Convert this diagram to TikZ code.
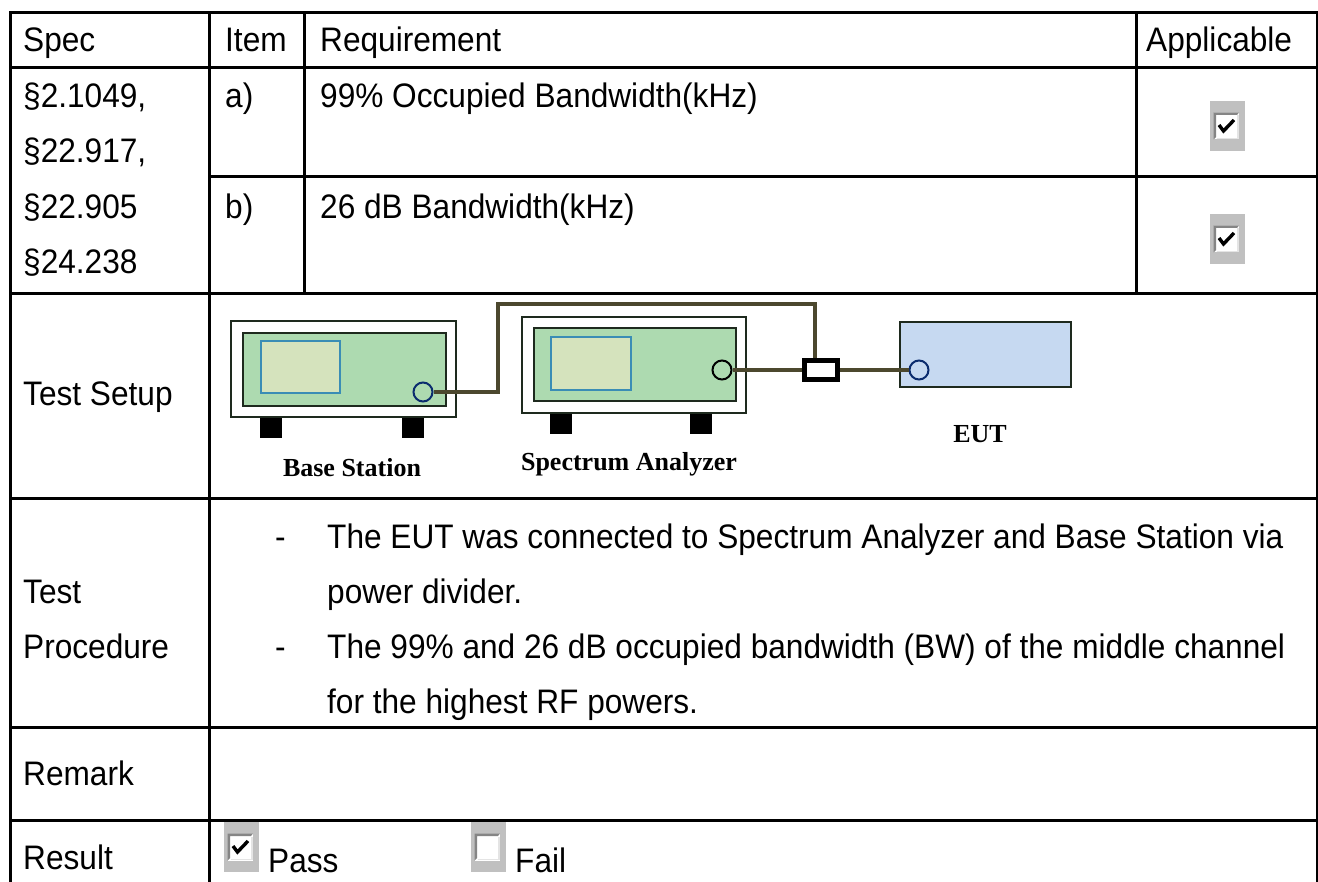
\documentclass[tikz,border=0pt]{standalone}
\usepackage{fontspec}
\setmainfont{Liberation Sans}[FakeStretch=0.93]
\newfontfamily\lbserif{Liberation Serif}
\definecolor{panelgreen}{HTML}{ADDAB0}
\definecolor{screenfill}{HTML}{D5E3BD}
\definecolor{screenline}{HTML}{3A8DB5}
\definecolor{boxdark}{HTML}{1E2A1E}
\definecolor{navyc}{HTML}{0B2C6E}
\definecolor{eutblue}{HTML}{C6D9F1}
\definecolor{cablec}{HTML}{4C482E}
\definecolor{cbgray}{HTML}{C0C0C0}
\definecolor{cbdark}{HTML}{858585}
\definecolor{cblight}{HTML}{E4E4E4}
\tikzset{
  tabline/.style={line width=3pt, line cap=rect, black},
  txt/.style={anchor=base west, inner sep=0pt, font=\fontsize{34}{40}\selectfont},
  lbl/.style={anchor=base, inner sep=0pt, font=\lbserif\bfseries\fontsize{26}{30}\selectfont},
  outerbox/.style={draw=boxdark, fill=white, line width=2pt, inner sep=0pt, rectangle},
  panelbox/.style={draw=boxdark, fill=panelgreen, line width=2pt, inner sep=0pt, rectangle},
  screenbox/.style={draw=screenline, fill=screenfill, line width=2pt, inner sep=0pt, rectangle},
  portc/.style={circle, line width=2pt, fill=panelgreen, minimum size=19pt, inner sep=0pt},
  footc/.style={fill=black},
  cable/.style={draw=cablec, line width=3.4pt},
  chkbase/.pic={
    \fill[cbgray] (0,0) rectangle (35,50);
    \fill[white] (3.5,11.5) rectangle (29,38.5);
    \fill[cbdark] (3.5,11.5) -- (29,11.5) -- (27,14) -- (6,14) -- (6,36) -- (3.5,38.5) -- cycle;
    \draw[cblight, line width=1.2pt] (6.5,37.5) -- (28,37.5) -- (28,14.5);
  },
  chkon/.pic={
    \pic {chkbase};
    \draw[black, line width=3.4pt, line join=miter] (9,24) -- (13.5,30) -- (24,19);
  },
  chkoff/.pic={
    \pic {chkbase};
  }
}
\begin{document}
\begin{tikzpicture}[x=1pt,y=-1pt]
\useasboundingbox[fill=white] (0,0) rectangle (1318,882);

% ---- table grid ----
\draw[tabline] (10,13) -- (1317,13);
\draw[tabline] (10,68) -- (1317,68);
\draw[tabline] (209,177) -- (1317,177);
\draw[tabline] (10,294) -- (1317,294);
\draw[tabline] (10,499) -- (1317,499);
\draw[tabline] (10,727) -- (1317,727);
\draw[tabline] (10,820) -- (1317,820);
\draw[tabline] (10,13) -- (10,884);
\draw[tabline] (1317,13) -- (1317,884);
\draw[tabline] (209,13) -- (209,884);
\draw[tabline] (304,13) -- (304,294);
\draw[tabline] (1136,13) -- (1136,294);

% ---- header ----
\node[txt] (hspec) at (23,52) {Spec};
\node[txt] (hitem) at (225,52) {Item};
\node[txt] (hreq) at (320,52) {Requirement};
\node[txt] (happ) at (1146,52) {Applicable};

% ---- spec rows ----
\node[txt] (s1) at (23,108) {§2.1049,};
\node[txt] (s2) at (23,163) {§22.917,};
\node[txt] (s3) at (23,219) {§22.905};
\node[txt] (s4) at (23,274) {§24.238};
\node[txt] (ia) at (225,108) {a)};
\node[txt] (ib) at (225,219) {b)};
\node[txt] (ra) at (320,108) {99\% Occupied Bandwidth(kHz)};
\node[txt] (rb) at (320,219) {26 dB Bandwidth(kHz)};
\pic at (1210,101) {chkon};
\pic at (1210,214) {chkon};

% ---- test setup ----
\node[txt] (tsetup) at (23,406) {Test Setup};

% base station
\node[outerbox, minimum width=225pt, minimum height=96pt] (bsout) at (343.5,369) {};
\node[panelbox, minimum width=203pt, minimum height=73pt] (bsin) at (344.5,369.5) {};
\node[screenbox, minimum width=79pt, minimum height=52pt] (bsscr) at (300.5,367) {};
\node[portc, draw=navyc] (bsport) at (423,392) {};
\fill[footc] (260,418) rectangle (282,438);
\fill[footc] (402,418) rectangle (424,438);
\node[lbl] (bslbl) at (352,477) {Base Station};

% spectrum analyzer
\node[outerbox, minimum width=224pt, minimum height=96pt] (saout) at (634,365) {};
\node[panelbox, minimum width=202pt, minimum height=73pt] (sain) at (635,364.5) {};
\node[screenbox, minimum width=80pt, minimum height=53pt] (sascr) at (591,363.5) {};
\node[portc, draw=black] (saport) at (722,370) {};
\fill[footc] (550,414) rectangle (572,434);
\fill[footc] (690,414) rectangle (712,434);
\node[lbl] (salbl) at (629,471) {Spectrum Analyzer};

% power divider
\node[rectangle, draw=black, line width=5pt, fill=white, minimum width=33pt, minimum height=19pt, inner sep=0pt] (divider) at (821,370) {};

% EUT
\node[rectangle, draw=boxdark, fill=eutblue, line width=2pt, minimum width=171pt, minimum height=65pt, inner sep=0pt] (eut) at (985.5,354.5) {};
\node[portc, draw=navyc, fill=eutblue] (eutport) at (919,370) {};
\node[lbl] (eutlbl) at (980,443) {EUT};

% cables
\coordinate (bend1) at (498,304);
\draw[cable] (bsport.east) -| (bend1) -| ([xshift=-6pt]divider.north);
\draw[cable] (saport.east) -- (divider.west);
\draw[cable] (divider.east) -- (eutport.west);

% ---- test procedure ----
\node[txt] (ptest) at (23,603) {Test};
\node[txt] (pproc) at (23,658) {Procedure};
\node[txt] (d1) at (275,548) {-};
\node[txt] (d2) at (275,658) {-};
\node[txt] (p1) at (327,548) {The EUT was connected to Spectrum Analyzer and Base Station via};
\node[txt] (p2) at (327,603) {power divider.};
\node[txt] (p3) at (327,658) {The 99\% and 26 dB occupied bandwidth (BW) of the middle channel};
\node[txt] (p4) at (327,713) {for the highest RF powers.};

% ---- remark / result ----
\node[txt] (remark) at (23,785) {Remark};
\node[txt] (result) at (23,869) {Result};
\pic at (224,822) {chkon};
\node[txt] (pass) at (268,872) {Pass};
\pic at (471,822) {chkoff};
\node[txt] (fail) at (515,872) {Fail};
\end{tikzpicture}
\end{document}
